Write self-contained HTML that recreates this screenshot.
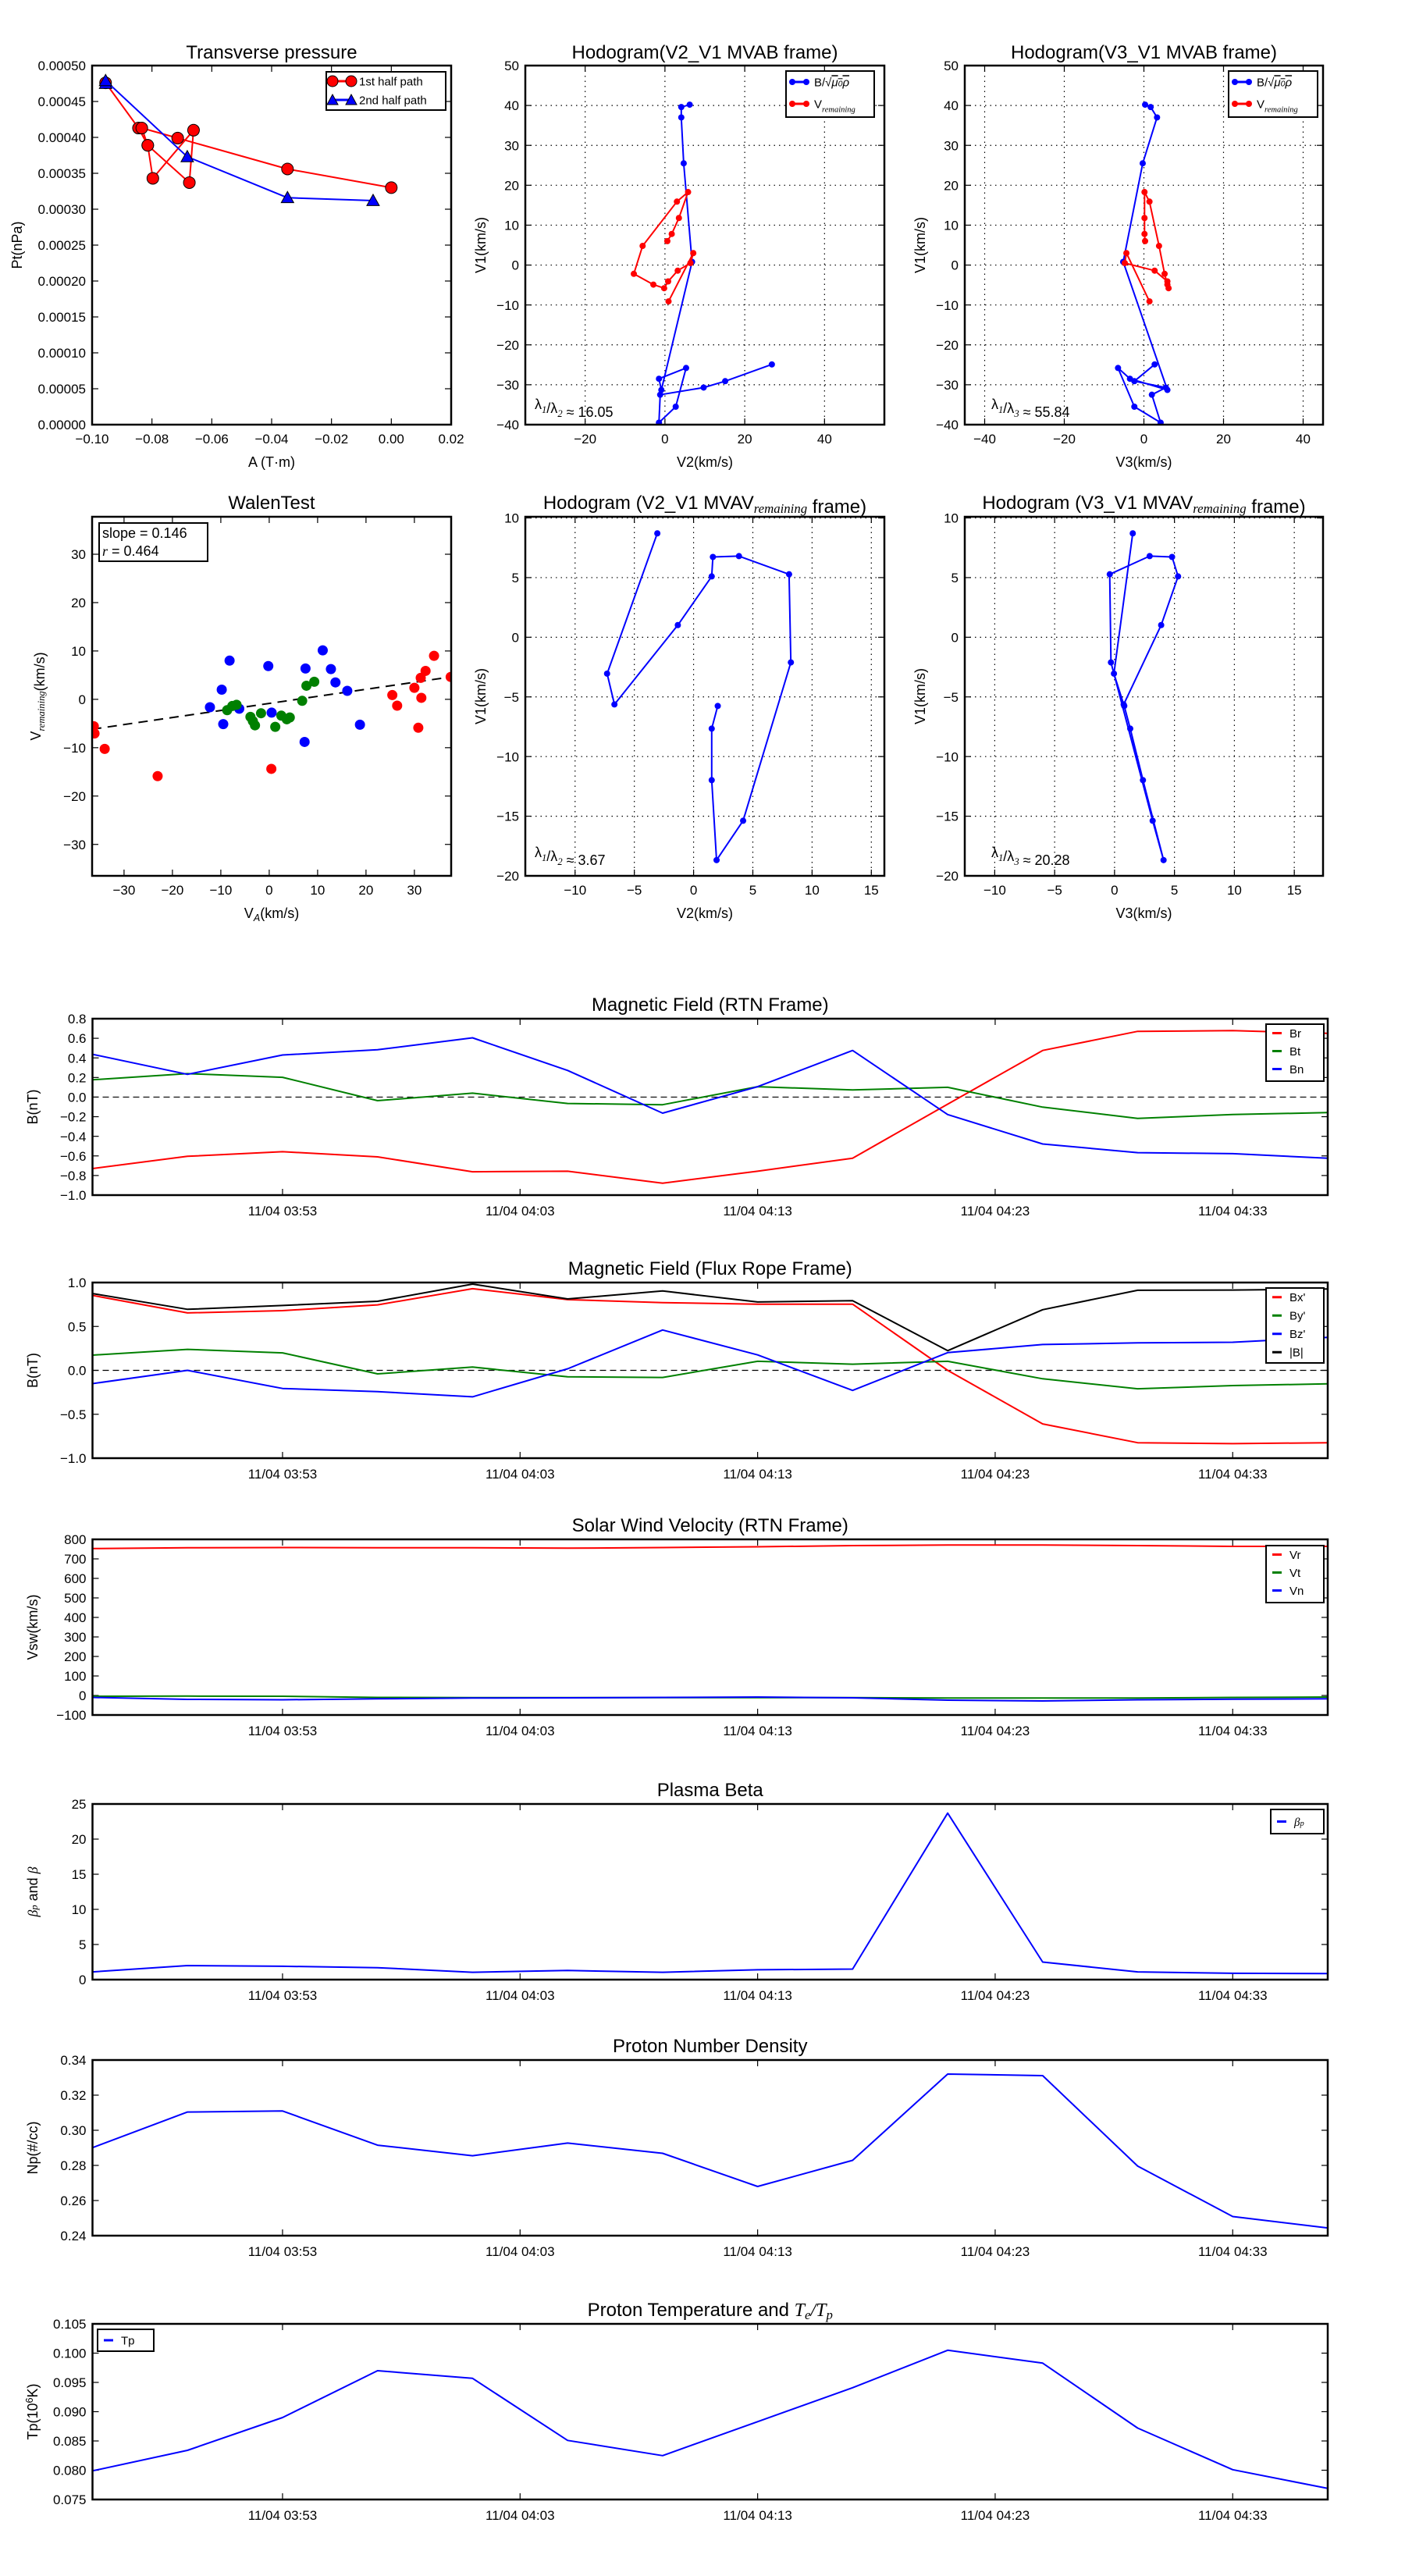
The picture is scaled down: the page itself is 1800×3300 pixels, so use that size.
<!DOCTYPE html>
<html><head><meta charset="utf-8"><title>Flux rope analysis</title>
<style>
html,body{margin:0;padding:0;background:#fff;}
svg{display:block;font-family:"Liberation Sans","DejaVu Sans",sans-serif;}
</style></head>
<body>
<svg id="fig" width="1800" height="3300" viewBox="0 0 1800 3300" xmlns="http://www.w3.org/2000/svg">
<rect x="0" y="0" width="1800" height="3300" fill="#fff"/>
</svg>
<script>
// ---------- data ----------
const ptRedA=[-0.0955,-0.0845,-0.0814,-0.0797,-0.0661,-0.0675,-0.0814,-0.0834,-0.0714,-0.0347,0.0];
const ptRedP=[0.000476,0.000413,0.000389,0.000343,0.000410,0.000337,0.000389,0.000413,0.000399,0.000356,0.000330];
const ptBlueA=[-0.0955,-0.0955,-0.0682,-0.0347,-0.0061];
const ptBlueP=[0.000475,0.000479,0.000373,0.000316,0.000312];

const hbV1=[40.2,39.6,37.0,25.5,0.8,-31.3,-28.5,-25.8,-35.5,-39.5,-32.5,-30.7,-29.1,-24.9];
const hbV2=[6.2,4.1,4.1,4.7,6.8,-0.9,-1.5,5.3,2.7,-1.5,-1.2,9.7,15.1,26.8];
const hbV3=[0.3,1.7,3.3,-0.3,-5.2,5.9,-3.5,-6.5,-2.4,4.2,2.0,5.5,-2.4,2.7];
const hvV1=[6.0,7.8,11.8,18.3,15.9,4.8,-2.2,-4.9,-5.8,-4.1,-1.4,0.5,3.0,-9.1];
const hvV2=[0.6,1.7,3.5,5.8,3.0,-5.6,-7.8,-2.9,-0.2,0.8,3.2,6.4,7.1,0.9];
const hvV3=[0.3,0.15,0.15,0.15,1.4,3.8,5.2,5.9,6.2,5.9,2.7,-4.8,-4.4,1.4];

const walBlueX=[-12.25,-9.81,-8.19,-9.5,-6.19,-0.19,0.5,7.31,7.5,11.06,12.75,13.69,16.13,18.75];
const walBlueY=[-1.63,2.0,8.0,-5.13,-1.94,6.88,-2.75,-8.81,6.38,10.13,6.25,3.5,1.75,-5.25];
const walGreenX=[-8.69,-7.63,-6.75,-3.88,-3.38,-2.94,-1.69,1.25,2.5,3.63,4.25,6.81,7.69,9.31];
const walGreenY=[-2.25,-1.38,-1.13,-3.63,-4.5,-5.38,-2.88,-5.69,-3.38,-4.13,-3.75,-0.31,2.81,3.63];
const walRedX=[-36.25,-36.1,-34,-23.06,0.44,25.44,26.44,30,30.81,31.31,31.44,32.31,34.06,37.5];
const walRedY=[-5.56,-7.06,-10.25,-15.88,-14.38,0.88,-1.31,2.38,-5.88,4.44,0.31,5.88,9.0,4.63];
const walSlope=0.146, walIntercept=-0.85;

const mvV1=[8.71,-3.05,-5.63,1.02,5.10,6.73,6.80,5.28,-2.11,-15.38,-18.68,-11.98,-7.66,-5.76];
const mvV2=[-3.06,-7.30,-6.68,-1.33,1.53,1.63,3.83,8.06,8.21,4.18,1.94,1.53,1.53,2.04];
const mvV3=[1.52,-0.05,0.76,3.89,5.30,4.80,2.93,-0.40,-0.30,3.18,4.09,2.37,1.31,0.81];

const timeTickPos=[2,4.5,7,9.5,12];
const timeTickLabels=['11/04 03:53','11/04 04:03','11/04 04:13','11/04 04:23','11/04 04:33'];
const Br=[-0.729,-0.604,-0.557,-0.610,-0.762,-0.756,-0.878,-0.756,-0.623,-0.072,0.476,0.671,0.678,0.651];
const Bt=[0.176,0.239,0.202,-0.036,0.040,-0.065,-0.078,0.106,0.073,0.100,-0.102,-0.217,-0.178,-0.158];
const Bn=[0.437,0.232,0.430,0.483,0.605,0.272,-0.164,0.106,0.476,-0.178,-0.478,-0.567,-0.577,-0.623];
const Bxp=[0.853,0.654,0.680,0.746,0.930,0.805,0.772,0.754,0.754,0.0,-0.610,-0.824,-0.835,-0.824];
const Byp=[0.173,0.239,0.199,-0.040,0.037,-0.074,-0.081,0.103,0.070,0.103,-0.096,-0.210,-0.173,-0.154];
const Bzp=[-0.151,0.0,-0.206,-0.243,-0.301,0.018,0.460,0.176,-0.228,0.202,0.294,0.313,0.320,0.375];
const Bmag=[0.875,0.695,0.739,0.787,0.982,0.813,0.904,0.779,0.794,0.224,0.691,0.912,0.915,0.926];
const Vr=[753,757,758,757,757,755,758,762,768,771,771,768,764,764];
const Vt=[-4,-3,-4,-10,-11,-11,-11,-11,-11,-13,-13,-13,-10,-8];
const Vn=[-10,-20,-22,-17,-13,-12,-10,-8,-12,-24,-28,-22,-19,-17];
const betaP=[1.1,2.0,1.9,1.7,1.05,1.3,1.05,1.4,1.5,23.7,2.5,1.1,0.9,0.85];
const Np=[0.2901,0.3104,0.3110,0.2915,0.2855,0.2927,0.2869,0.2680,0.2829,0.3320,0.3311,0.2796,0.2509,0.2444];
const Tp=[0.0799,0.0834,0.0890,0.0970,0.0957,0.0851,0.0825,0.0883,0.0941,0.1005,0.0983,0.0872,0.0801,0.0769];

// ---------- helpers ----------
const NS='http://www.w3.org/2000/svg';
const svg=document.getElementById('fig');
function mk(tag,attrs,parent){const e=document.createElementNS(NS,tag);for(const k in attrs)e.setAttribute(k,attrs[k]);(parent||svg).appendChild(e);return e;}
function fmtNum(v,d){const s=Math.abs(v).toFixed(d);return (v<-1e-12?'\u2212':'')+s;}
function range(a,b,s){const r=[];for(let v=a;v<=b+s*1e-6;v+=s)r.push(Math.round(v/s)*s);return r;}

function axes(o){
  const g=mk('g',{});
  
  
  const sx=v=>o.x0+(v-o.xmin)/(o.xmax-o.xmin)*(o.x1-o.x0);
  const sy=v=>o.y1-(v-o.ymin)/(o.ymax-o.ymin)*(o.y1-o.y0);
  const fs=o.fs||18;
  if(o.grid){
    o.xt.forEach(v=>{const l=mk('line',{x1:sx(v),x2:sx(v),y1:o.y0,y2:o.y1,stroke:'#000','stroke-width':1.2,'stroke-dasharray':'1.5,5'},g);
      });
    o.yt.forEach(v=>{const l=mk('line',{x1:o.x0,x2:o.x1,y1:sy(v),y2:sy(v),stroke:'#000','stroke-width':1.2,'stroke-dasharray':'1.5,5'},g);
      });
  }
  o.xt.forEach((v,i)=>{
    const x=sx(v);
    mk('line',{x1:x,x2:x,y1:o.y1,y2:o.y1-8,stroke:'#000','stroke-width':1.2},g);
    mk('line',{x1:x,x2:x,y1:o.y0,y2:o.y0+8,stroke:'#000','stroke-width':1.2},g);
    const t=mk('text',{x:x,y:o.y1+(o.xlOff||24),'text-anchor':'middle','font-size':fs,fill:'#000'},g);
    t.textContent=o.xl[i];
    
  });
  o.yt.forEach((v,i)=>{
    const y=sy(v);
    mk('line',{x1:o.x0,x2:o.x0+8,y1:y,y2:y,stroke:'#000','stroke-width':1.2},g);
    mk('line',{x1:o.x1,x2:o.x1-8,y1:y,y2:y,stroke:'#000','stroke-width':1.2},g);
    const t=mk('text',{x:o.x0-8,y:y+fs*0.36,'text-anchor':'end','font-size':fs,fill:'#000'},g);
    t.textContent=o.yl[i];
    
  });
  const cp=mk('clipPath',{id:'clip-'+o.name},g);
  mk('rect',{x:o.x0,y:o.y0,width:o.x1-o.x0,height:o.y1-o.y0},cp);
  const plot=mk('g',{'clip-path':'url(#clip-'+o.name+')'},g);
  
  const frame=mk('rect',{x:o.x0,y:o.y0,width:o.x1-o.x0,height:o.y1-o.y0,fill:'none',stroke:'#000','stroke-width':2.5},g);
  
  const tt=mk('text',{x:(o.x0+o.x1)/2,y:o.titleY||(o.y0-10),'text-anchor':'middle','font-size':o.tfs||24,fill:'#000'},g);
  tt.innerHTML=o.title;
  
  if(o.xlabel){const t=mk('text',{x:(o.x0+o.x1)/2,y:o.xlabelY,'text-anchor':'middle','font-size':18,fill:'#000'},g);
    t.innerHTML=o.xlabel;}
  if(o.ylabel){const cy=(o.y0+o.y1)/2;const t=mk('text',{x:o.ylabelX,y:cy,'text-anchor':'middle','font-size':o.ylfs||18,fill:'#000',transform:'rotate(-90 '+o.ylabelX+' '+cy+')'},g);
    t.innerHTML=o.ylabel;}
  return {sx,sy,g,plot};
}
function polyline(ax,xs,ys,color,w,name){
  const pts=xs.map((x,i)=>ax.sx(x).toFixed(1)+','+ax.sy(ys[i]).toFixed(1)).join(' ');
  const p=mk('polyline',{points:pts,fill:'none',stroke:color,'stroke-width':w,'stroke-linejoin':'round'},ax.plot);
  
  
  return p;
}
function dots(ax,xs,ys,color,r,name,edge){
  xs.forEach((x,i)=>{
    const c=mk('circle',{cx:ax.sx(x),cy:ax.sy(ys[i]),r:r,fill:color,stroke:edge||'none','stroke-width':1},ax.plot);
    
    
  });
}
function tris(ax,xs,ys,color,s,name){
  xs.forEach((x,i)=>{
    const cx=ax.sx(x),cy=ax.sy(ys[i]);
    const p=mk('polygon',{points:`${cx},${cy-s} ${cx-s},${cy+s*0.8} ${cx+s},${cy+s*0.8}`,fill:color,stroke:'#000','stroke-width':1},ax.plot);
    
    
  });
}
function legend(x,y,w,h,entries,fs,rowH,marker){
  const g=mk('g',{});
  
  
  mk('rect',{x:x,y:y,width:w,height:h,fill:'#fff',stroke:'#000','stroke-width':2},g);
  entries.forEach((e,i)=>{
    const cy=y+rowH*(i+0.5)+ (e.dy||0);
    const ln=mk('line',{x1:x+8,x2:x+(e.len||26),y1:cy,y2:cy,stroke:e.color,'stroke-width':3},g);
    
    if(e.marker==='circle'){[x+8,x+(e.len||26)].forEach(mx=>mk('circle',{cx:mx,cy:cy,r:e.r||4,fill:e.color,stroke:e.edge||'none'},g));}
    if(e.marker==='tri'){[x+8,x+(e.len||26)].forEach(mx=>mk('polygon',{points:`${mx},${cy-7} ${mx-7},${cy+6} ${mx+7},${cy+6}`,fill:e.color,stroke:'#000'},g));}
    const t=mk('text',{x:x+(e.len||26)+10,y:cy+fs*0.35,'font-size':fs,fill:'#000'},g);
    t.innerHTML=e.label;
    
  });
}
const sub=(s)=>`<tspan font-size="0.7em" dy="5" font-style="italic" font-family="Liberation Serif, serif">${s}</tspan><tspan dy="-5"></tspan>`;
function annot(x,y,html,fs){const t=mk('text',{x:x,y:y,'font-size':fs||18,fill:'#000'});t.innerHTML=html;
  }

// ---------- Transverse pressure ----------
{
  const yt=range(0,0.0005,0.00005);
  const xt=range(-0.1,0.02,0.02);
  const ax=axes({name:'transverse-pressure',x0:118,x1:578,y0:84,y1:544,xmin:-0.1,xmax:0.02,ymin:0,ymax:0.0005,
    xt:xt,xl:xt.map(v=>fmtNum(v,2)),yt:yt,yl:yt.map(v=>fmtNum(v,5)),title:'Transverse pressure',titleY:75,
    xlabel:'A (T·m)',xlabelY:598,ylabel:'Pt(nPa)',ylabelX:28,fs:17});
  polyline(ax,ptRedA,ptRedP,'#f00',2,'first-half-path-line');
  dots(ax,ptRedA,ptRedP,'#f00',7.5,'first-half-path-point','#000');
  polyline(ax,ptBlueA,ptBlueP,'#00f',2,'second-half-path-line');
  tris(ax,ptBlueA,ptBlueP,'#00f',8,'second-half-path-point');
  legend(418,92,153,49,[{color:'#f00',label:'1st half path',marker:'circle',r:7,edge:'#000',len:32},{color:'#00f',label:'2nd half path',marker:'tri',len:32}],15,24);
}
// ---------- Hodogram V2_V1 MVAB ----------
{
  const yt=range(-40,50,10), xt=[-20,0,20,40];
  const ax=axes({name:'hodogram-v2-v1-mvab',x0:673,x1:1133,y0:84,y1:544,xmin:-35,xmax:55,ymin:-40,ymax:50,grid:true,
    xt:xt,xl:xt.map(v=>fmtNum(v,0)),yt:yt,yl:yt.map(v=>fmtNum(v,0)),title:'Hodogram(V2_V1 MVAB frame)',titleY:75,
    xlabel:'V2(km/s)',xlabelY:598,ylabel:'V1(km/s)',ylabelX:622,fs:17});
  polyline(ax,hbV2,hbV1,'#00f',2,'b-alfven-hodogram-line');
  dots(ax,hbV2,hbV1,'#00f',4,'b-alfven-hodogram-point');
  polyline(ax,hvV2,hvV1,'#f00',2,'v-remaining-hodogram-line');
  dots(ax,hvV2,hvV1,'#f00',4,'v-remaining-hodogram-point');
  legend(1007,91,113,59,[{color:'#00f',label:'B/√<tspan text-decoration="overline" font-style="italic">μ<tspan font-size="0.7em">0</tspan>ρ</tspan>',marker:'circle',r:4},{color:'#f00',label:'V'+sub('remaining'),marker:'circle',r:4}],15,28);
  annot(685,524,'λ'+sub('1')+'/λ'+sub('2')+' ≈ 16.05',18);
}
// ---------- Hodogram V3_V1 MVAB ----------
{
  const yt=range(-40,50,10), xt=[-40,-20,0,20,40];
  const ax=axes({name:'hodogram-v3-v1-mvab',x0:1236,x1:1695,y0:84,y1:544,xmin:-45,xmax:45,ymin:-40,ymax:50,grid:true,
    xt:xt,xl:xt.map(v=>fmtNum(v,0)),yt:yt,yl:yt.map(v=>fmtNum(v,0)),title:'Hodogram(V3_V1 MVAB frame)',titleY:75,
    xlabel:'V3(km/s)',xlabelY:598,ylabel:'V1(km/s)',ylabelX:1185,fs:17});
  polyline(ax,hbV3,hbV1,'#00f',2,'b-alfven-hodogram-line');
  dots(ax,hbV3,hbV1,'#00f',4,'b-alfven-hodogram-point');
  polyline(ax,hvV3,hvV1,'#f00',2,'v-remaining-hodogram-line');
  dots(ax,hvV3,hvV1,'#f00',4,'v-remaining-hodogram-point');
  legend(1574,91,114,59,[{color:'#00f',label:'B/√<tspan text-decoration="overline" font-style="italic">μ<tspan font-size="0.7em">0</tspan>ρ</tspan>',marker:'circle',r:4},{color:'#f00',label:'V'+sub('remaining'),marker:'circle',r:4}],15,28);
  annot(1270,524,'λ'+sub('1')+'/λ'+sub('3')+' ≈ 55.84',18);
}
// ---------- Walen test ----------
{
  const yt=range(-30,30,10), xt=range(-30,30,10);
  const ax=axes({name:'walen-test',x0:118,x1:578,y0:662,y1:1122,xmin:-36.6,xmax:37.6,ymin:-36.5,ymax:37.75,
    xt:xt,xl:xt.map(v=>fmtNum(v,0)),yt:yt,yl:yt.map(v=>fmtNum(v,0)),title:'WalenTest',titleY:652,
    xlabel:'V<tspan font-size="0.7em" dy="4" font-style="italic">A</tspan><tspan dy="-4">(km/s)</tspan>',xlabelY:1176,
    ylabel:'V'+sub('remaining')+'(km/s)',ylabelX:52,fs:17});
  const fx=[-36.6,37.6], fy=fx.map(v=>walSlope*v+walIntercept);
  const fl=polyline(ax,fx,fy,'#000',2,'regression-line');
  fl.setAttribute('stroke-dasharray','12,8');
  dots(ax,walBlueX,walBlueY,'#00f',6.5,'walen-point-blue');
  dots(ax,walGreenX,walGreenY,'#008000',6.5,'walen-point-green');
  dots(ax,walRedX,walRedY,'#f00',6.5,'walen-point-red');
  const g=mk('g',{});
  mk('rect',{x:127,y:670,width:139,height:49,fill:'#fff',stroke:'#000','stroke-width':2},g);
  const t1=mk('text',{x:131,y:689,'font-size':18},g);t1.textContent='slope = 0.146';
  const t2=mk('text',{x:131,y:712,'font-size':18},g);t2.innerHTML='<tspan font-style="italic" font-family="Liberation Serif, serif">r</tspan> = 0.464';
}
// ---------- Hodogram MVAV row ----------
{
  const yt=range(-20,10,5), xt=[-10,-5,0,5,10,15];
  const ax=axes({name:'hodogram-v2-v1-mvav',x0:673,x1:1133,y0:662,y1:1122,xmin:-14.2,xmax:16.1,ymin:-20,ymax:10.1,grid:true,
    xt:xt,xl:xt.map(v=>fmtNum(v,0)),yt:yt,yl:yt.map(v=>fmtNum(v,0)),title:'Hodogram (V2_V1 MVAV'+sub('remaining')+' frame)',titleY:652,
    xlabel:'V2(km/s)',xlabelY:1176,ylabel:'V1(km/s)',ylabelX:622,fs:17});
  polyline(ax,mvV2,mvV1,'#00f',2,'mvav-hodogram-line');
  dots(ax,mvV2,mvV1,'#00f',4,'mvav-hodogram-point');
  annot(685,1098,'λ'+sub('1')+'/λ'+sub('2')+' ≈ 3.67',18);
}
{
  const yt=range(-20,10,5), xt=[-10,-5,0,5,10,15];
  const ax=axes({name:'hodogram-v3-v1-mvav',x0:1236,x1:1695,y0:662,y1:1122,xmin:-12.5,xmax:17.4,ymin:-20,ymax:10.1,grid:true,
    xt:xt,xl:xt.map(v=>fmtNum(v,0)),yt:yt,yl:yt.map(v=>fmtNum(v,0)),title:'Hodogram (V3_V1 MVAV'+sub('remaining')+' frame)',titleY:652,
    xlabel:'V3(km/s)',xlabelY:1176,ylabel:'V1(km/s)',ylabelX:1185,fs:17});
  polyline(ax,mvV3,mvV1,'#00f',2,'mvav-hodogram-line');
  dots(ax,mvV3,mvV1,'#00f',4,'mvav-hodogram-point');
  annot(1270,1098,'λ'+sub('1')+'/λ'+sub('3')+' ≈ 20.28',18);
}
// ---------- Time series ----------
const idx=Br.map((_,i)=>i);
function tsAxes(name,y0,y1,ymin,ymax,yt,dec,title,ylabel){
  return axes({name:name,x0:118.5,x1:1701,y0:y0,y1:y1,xmin:0,xmax:13,ymin:ymin,ymax:ymax,
    xt:timeTickPos,xl:timeTickLabels,yt:yt,yl:yt.map(v=>fmtNum(v,dec)),title:title,titleY:y0-10,
    ylabel:ylabel,ylabelX:48,fs:17,xlOff:26});
}
function zeroLine(ax){const l=mk('line',{x1:ax.sx(0),x2:ax.sx(13),y1:ax.sy(0),y2:ax.sy(0),stroke:'#000','stroke-width':1.2,'stroke-dasharray':'8,5'},ax.plot);
  }
{
  const ax=tsAxes('magnetic-field-rtn',1305,1531,-1,0.8,range(-1,0.8,0.2),1,'Magnetic Field (RTN Frame)','B(nT)');
  zeroLine(ax);
  polyline(ax,idx,Br,'#f00',2,'br-line');
  polyline(ax,idx,Bt,'#008000',2,'bt-line');
  polyline(ax,idx,Bn,'#00f',2,'bn-line');
  legend(1622,1312,74,73,[{color:'#f00',label:'Br',len:20},{color:'#008000',label:'Bt',len:20},{color:'#00f',label:'Bn',len:20}],15,23);
}
{
  const ax=tsAxes('magnetic-field-flux-rope',1643,1868,-1,1,range(-1,1,0.5),1,'Magnetic Field (Flux Rope Frame)','B(nT)');
  zeroLine(ax);
  polyline(ax,idx,Bxp,'#f00',2,'bx-prime-line');
  polyline(ax,idx,Byp,'#008000',2,'by-prime-line');
  polyline(ax,idx,Bzp,'#00f',2,'bz-prime-line');
  polyline(ax,idx,Bmag,'#000',2,'b-magnitude-line');
  legend(1622,1650,74,96,[{color:'#f00',label:"Bx'",len:20},{color:'#008000',label:"By'",len:20},{color:'#00f',label:"Bz'",len:20},{color:'#000',label:'|B|',len:20}],15,23.5);
}
{
  const ax=tsAxes('solar-wind-velocity',1972,2197,-100,800,range(-100,800,100),0,'Solar Wind Velocity (RTN Frame)','Vsw(km/s)');
  polyline(ax,idx,Vr,'#f00',2,'vr-line');
  polyline(ax,idx,Vt,'#008000',2,'vt-line');
  polyline(ax,idx,Vn,'#00f',2,'vn-line');
  legend(1622,1980,74,73,[{color:'#f00',label:'Vr',len:20},{color:'#008000',label:'Vt',len:20},{color:'#00f',label:'Vn',len:20}],15,23);
}
{
  const ax=tsAxes('plasma-beta',2311,2536,0,25,range(0,25,5),0,'Plasma Beta','<tspan font-style="italic" font-family="Liberation Serif, serif">β<tspan font-size="0.7em">p</tspan></tspan> and <tspan font-style="italic" font-family="Liberation Serif, serif">β</tspan>');
  polyline(ax,idx,betaP,'#00f',2,'beta-p-line');
  legend(1628,2318,68,31,[{color:'#00f',label:'<tspan font-style="italic" font-family="Liberation Serif, serif">β<tspan font-size="0.7em">p</tspan></tspan>',len:20}],15,31);
}
{
  const ax=tsAxes('proton-number-density',2639,2864,0.24,0.34,range(0.24,0.34,0.02),2,'Proton Number Density','Np(#/cc)');
  polyline(ax,idx,Np,'#00f',2,'np-line');
}
{
  const ax=tsAxes('proton-temperature',2977,3202,0.075,0.105,range(0.075,0.105,0.005),3,'Proton Temperature and <tspan font-style="italic" font-family="Liberation Serif, serif">T<tspan font-size="0.7em" dy="4">e</tspan><tspan dy="-4">/T</tspan><tspan font-size="0.7em" dy="4">p</tspan></tspan>','Tp(10<tspan font-size="0.7em" dy="-6">6</tspan><tspan dy="6">K)</tspan>');
  polyline(ax,idx,Tp,'#00f',2,'tp-line');
  legend(125,2984,72,28,[{color:'#00f',label:'Tp',len:20}],15,28);
}
</script>
</body></html>
